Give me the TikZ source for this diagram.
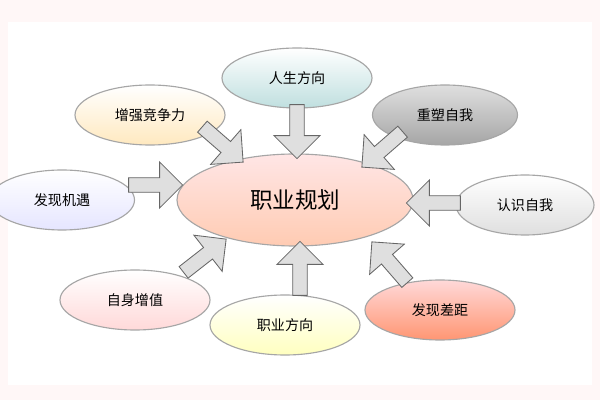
\documentclass[tikz,border=0pt]{standalone}
\usepackage{fontspec}
\newfontfamily\cjk{Noto Sans CJK SC}
\usetikzlibrary{shapes.geometric,shapes.arrows}
\begin{document}
\begin{tikzpicture}[x=0.025cm,y=-0.025cm,
  oval/.style={ellipse,draw=gray!70,line width=0.8pt,minimum width=150*0.025cm,minimum height=60*0.025cm,font=\cjk\fontsize{10}{12}\selectfont},
  blk/.style={single arrow,draw=gray!80!black,fill=gray!25,line width=0.6pt,minimum height=54*0.025cm,minimum width=46*0.025cm,single arrow head extend=10*0.025cm,inner sep=3pt}]
\useasboundingbox (0,0) rectangle (600,400);
\fill[red!3] (0,0) rectangle (600,400);
\fill[white] (8,22) rectangle (592,385);
\node[ellipse,draw=gray!70,line width=0.8pt,minimum width=236*0.025cm,minimum height=92*0.025cm,top color=red!10,bottom color=red!35!orange!30,font=\cjk\fontsize{16}{18}\selectfont] (c) at (295,200) {职业规划};
\node[oval,top color=white,bottom color=teal!25] (n1) at (297,78) {人生方向};
\node[oval,top color=white,bottom color=yellow!30!orange!25] (n2) at (150,115) {增强竞争力};
\node[oval,top color=gray!25,bottom color=gray!70,minimum width=145*0.025cm] (n3) at (445,115) {重塑自我};
\node[oval,top color=white,bottom color=blue!10,minimum width=145*0.025cm] (n4) at (62,200) {发现机遇};
\node[oval,top color=white,bottom color=gray!25,minimum width=138*0.025cm] (n5) at (525,205) {认识自我};
\node[oval,top color=white,bottom color=red!15] (n6) at (135,300) {自身增值};
\node[oval,top color=white,bottom color=yellow!25] (n7) at (285,325) {职业方向};
\node[oval,top color=red!15,bottom color=red!50!orange!55] (n8) at (440,310) {发现差距};
\node[blk,rotate=-90] (a1) at (297,128) {};
\node[blk,rotate=-41] (a2) at (220,142) {};
\node[blk,rotate=-139] (a3) at (385,147) {};
\node[blk] (a4) at (152,185) {};
\node[blk,rotate=180] (a5) at (437,203) {};
\node[blk,rotate=38] (a6) at (202,258) {};
\node[blk,rotate=90] (a7) at (300,272) {};
\node[blk,rotate=131] (a8) at (392,265) {};
\end{tikzpicture}
\end{document}
